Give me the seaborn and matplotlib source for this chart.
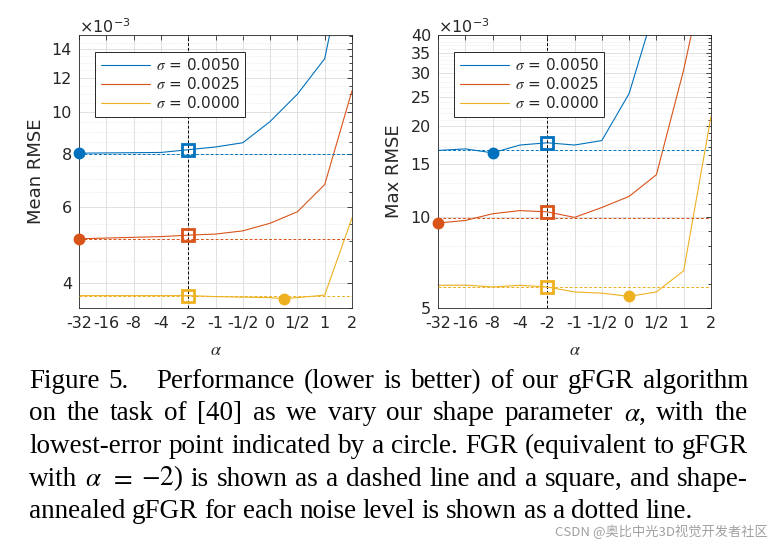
import matplotlib
matplotlib.use('Agg')
import matplotlib.pyplot as plt
import matplotlib.ticker as mticker
import numpy as np
import pandas as pd
import seaborn as sns

# x axis: alpha values, drawn equally spaced
alpha_labels = ['-32', '-16', '-8', '-4', '-2', '-1', '-1/2', '0', '1/2', '1', '2']
alpha_pos = [0, 1, 2, 3, 4, 5, 6, 7, 8, 9, 10]
alpha_pos_q = [0, 1, 2, 3, 4, 5, 6, 7, 7.5, 8, 9, 10]   # with alpha = 1/4
fgr_pos = 4                                              # alpha = -2

sigma_labels = [r'$\sigma$ = 0.0050', r'$\sigma$ = 0.0025', r'$\sigma$ = 0.0000']
colors = ['#0072BD', '#D95319', '#EDB120']

# Mean RMSE (x 1e-3)
mean_s050 = [8.02, 8.03, 8.04, 8.05, 8.17, 8.29, 8.48, 9.5, 11.0, 13.3, 27.0]
mean_s025 = [5.07, 5.09, 5.11, 5.13, 5.17, 5.20, 5.29, 5.51, 5.86, 6.78, 11.2]
mean_s000 = [3.74, 3.74, 3.74, 3.74, 3.74, 3.72, 3.71, 3.70, 3.68, 3.70, 3.75, 5.67]
mean_annealed = [8.0, 5.07, 3.73]

# Max RMSE (x 1e-3)
max_s050 = [16.6, 16.8, 16.3, 17.3, 17.6, 17.3, 17.9, 25.6, 51.0, 100.0, 200.0]
max_s025 = [9.55, 9.74, 10.25, 10.5, 10.4, 9.97, 10.75, 11.7, 13.8, 30.7, 80.0]
max_s000 = [5.94, 5.95, 5.87, 5.94, 5.87, 5.65, 5.60, 5.46, 5.65, 6.64, 21.5]
max_annealed = [16.6, 9.92, 5.87]

mean_ticks = [4, 6, 8, 10, 12, 14]
mean_minor = list(np.arange(3.5, 15.01, 0.5))
max_ticks = [5, 10, 15, 20, 25, 30, 35, 40]
max_minor = list(range(5, 41))

caption = [
    ['Figure', '5.', '', '', 'Performance', '(lower', 'is', 'better)', 'of', 'our', 'gFGR', 'algorithm'],
    ['on', 'the', 'task', 'of', '[40]', 'as', 'we', 'vary', 'our', 'shape', 'parameter', r'$\alpha$,', 'with', 'the'],
    ['lowest-error', 'point', 'indicated', 'by', 'a', 'circle.', 'FGR', '(equivalent', 'to', 'gFGR'],
    ['with', r'$\alpha$', '$=$', r'$-2$)', 'is', 'shown', 'as', 'a', 'dashed', 'line', 'and', 'a', 'square,', 'and', 'shape-'],
    ['annealed', 'gFGR', 'for', 'each', 'noise', 'level', 'is', 'shown', 'as', 'a', 'dotted', 'line.'],
]

sns.set_style('white')
plt.rcParams['font.family'] = ['DejaVu Sans']
plt.rcParams['mathtext.fontset'] = 'stix'
ink = '#262626'

W, H = 782, 548
fig = plt.figure(figsize=(W / 100, H / 100), dpi=100)
ax1 = fig.add_axes([79 / W, 1 - 308 / H, 273 / W, 273 / H])
ax2 = fig.add_axes([438 / W, 1 - 308 / H, 273 / W, 273 / H])


def panel(ax, xs, series, annealed, ylim, ticks, minor, ylabel, ylab_x):
    rows = []
    for lab, x, v in zip(sigma_labels, xs, series):
        rows += [(a, val, lab) for a, val in zip(x, v)]
    df = pd.DataFrame(rows, columns=['alpha', 'rmse', 'sigma'])
    sns.lineplot(data=df, x='alpha', y='rmse', hue='sigma', palette=colors,
                 sort=False, estimator=None, lw=0.8, ax=ax)
    ax.set_yscale('log')
    ax.set_ylim(*ylim)
    ax.set_xlim(0, 10)
    ax.set_xticks(alpha_pos)
    ax.set_xticklabels(alpha_labels)
    ax.set_yticks(ticks)
    ax.set_yticklabels([str(t) for t in ticks])
    ax.yaxis.set_minor_locator(mticker.FixedLocator(minor))
    ax.yaxis.set_minor_formatter(mticker.NullFormatter())

    ax.set_axisbelow(True)
    ax.grid(True, which='major', color='#dcdcdc', lw=0.6)
    ax.grid(True, which='minor', axis='y', color='#e0e0e0', lw=0.5, ls=':')
    ax.tick_params(which='both', direction='in', top=True, right=True,
                   colors=ink, labelsize=11.5, length=3.5, width=0.6)
    ax.tick_params(which='minor', length=2)
    ax.tick_params(axis='x', pad=6)
    ax.tick_params(axis='y', pad=5)
    for s in ax.spines.values():
        s.set_color(ink)
        s.set_linewidth(0.6)

    ax.axvline(fgr_pos, color='k', ls=(0, (3, 2)), lw=0.7, zorder=3)
    for c, a in zip(colors, annealed):
        ax.axhline(a, color=c, ls=(0, (3, 2)), lw=0.7, zorder=3)
    for c, x, v in zip(colors, xs, series):
        i = int(np.argmin(v))
        ax.plot(x[i], v[i], 'o', color=c, ms=7.5, zorder=6, clip_on=False)
        j = x.index(fgr_pos)
        ax.plot(x[j], v[j], 's', mfc='none', mec=c, mew=2, ms=8.5, zorder=6)

    handles, labels = ax.get_legend_handles_labels()
    leg = ax.legend(handles[:3], labels[:3], loc='upper left', bbox_to_anchor=(0.06, 0.938),
                    borderaxespad=0, fontsize=11, fancybox=False, edgecolor=ink,
                    framealpha=1, handlelength=3.2, borderpad=0.35, labelspacing=0.2,
                    handletextpad=0.4)
    leg.get_frame().set_linewidth(0.7)

    ax.set_xlabel(r'$\alpha$', fontsize=13, color=ink)
    ax.xaxis.set_label_coords(0.5, -0.12)
    ax.set_ylabel(ylabel, fontsize=13, color=ink)
    ax.yaxis.set_label_coords(ylab_x, 0.5)
    ax.text(0, 1.012, '×10$^{\\mathregular{-3}}$', transform=ax.transAxes,
            ha='left', va='baseline', fontsize=11.5, color=ink)


panel(ax1, [alpha_pos, alpha_pos, alpha_pos_q], [mean_s050, mean_s025, mean_s000],
      mean_annealed, (3.5, 15.1), mean_ticks, mean_minor, 'Mean RMSE', -0.125)
panel(ax2, [alpha_pos, alpha_pos, alpha_pos], [max_s050, max_s025, max_s000],
      max_annealed, (5, 40), max_ticks, max_minor, 'Max RMSE', -0.128)

# caption, justified between x0 and x1
fig.canvas.draw()
r = fig.canvas.get_renderer()
x0, x1 = 29, 748
baselines = [388, 420.5, 453, 485.5, 518]
for k, (words, b) in enumerate(zip(caption, baselines)):
    texts = [fig.text(0, 1 - b / H, w, fontsize=19.5, family='Liberation Serif',
                      ha='left', va='baseline', color='black') for w in words]
    widths = [t.get_window_extent(r).width if w else 0 for t, w in zip(texts, words)]
    if k < len(caption) - 1:
        gap = (x1 - x0 - sum(widths)) / (len(words) - 1)
    else:
        gap = 6.5
    x = x0
    for t, w in zip(texts, widths):
        t.set_x(x / W)
        x += w + gap

fig.text(768 / W, 1 - 536 / H, 'CSDN @奥比中光3D视觉开发者社区', fontsize=9.5,
         family=['Noto Sans CJK SC', 'DejaVu Sans'], color='#a0a0a0',
         ha='right', va='baseline')

fig.savefig('out.png', dpi=100)
